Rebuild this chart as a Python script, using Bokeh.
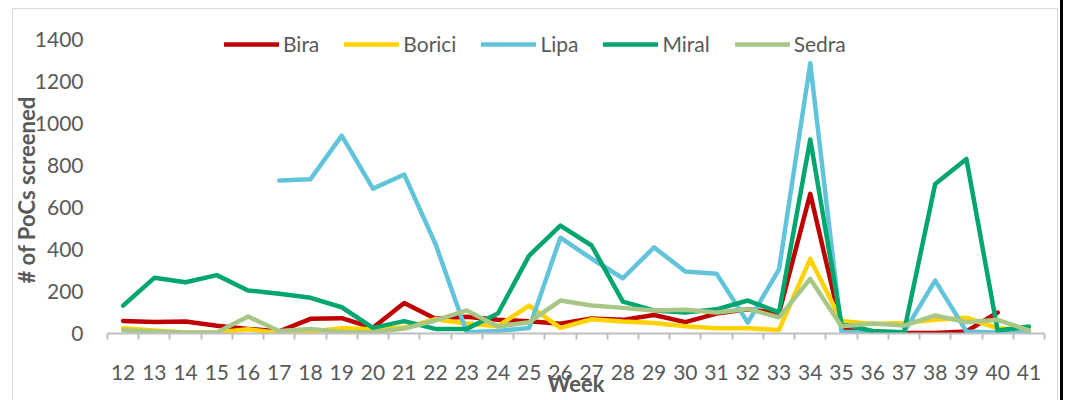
import numpy as np
from bokeh.plotting import figure
from bokeh.models import FixedTicker, Legend, LegendItem, ColumnDataSource, InlineStyleSheet, Title
from bokeh.embed import file_html
from bokeh.resources import INLINE

nan = float("nan")

weeks = list(range(12, 42))
series_names = ["Bira", "Borici", "Lipa", "Miral", "Sedra"]
series_colors = ["#C00000", "#FFD200", "#62C4DB", "#00A66E", "#A8C686"]

bira = [60, 55, 57, 37, 22, 10, 70, 73, 27, 145, 70, 80, 65, 58, 46, 72, 65, 88, 54, 95,
        115, 97, 665, 30, 5, 2, 2, 10, 100, nan]
borici = [25, 14, 5, 5, 20, 3, 10, 25, 20, 28, 68, 48, 35, 133, 27, 68, 57, 50, 35, 25,
          25, 17, 355, 60, 45, 50, 65, 75, 25, 15]
lipa = [nan, nan, nan, nan, nan, 728, 735, 942, 690, 757, 427, 6, 12, 26, 456, 356, 263,
        410, 295, 285, 52, 305, 1287, 8, 5, 5, 252, 10, 5, 5]
miral = [133, 265, 244, 278, 205, 189, 170, 125, 27, 59, 22, 22, 95, 371, 514, 419, 152,
         110, 100, 115, 157, 101, 924, 45, 12, 6, 712, 831, 14, 33]
sedra = [15, 9, 5, 5, 81, 12, 22, 7, 6, 24, 62, 110, 33, 54, 157, 133, 122, 110, 113, 100,
         117, 77, 260, 35, 48, 38, 86, 54, 65, 15]

y_ticks = [0, 200, 400, 600, 800, 1000, 1200, 1400]

src = ColumnDataSource(data=dict(
    week=np.array(weeks, dtype=float),
    Bira=np.array(bira, dtype=float),
    Borici=np.array(borici, dtype=float),
    Lipa=np.array(lipa, dtype=float),
    Miral=np.array(miral, dtype=float),
    Sedra=np.array(sedra, dtype=float),
))

FONT = "Lato"
TXT = "#595959"

p = figure(width=1065, height=400, x_range=(11.5, 41.5), y_range=(0, 1490.5),
           output_backend="svg", toolbar_location=None,
           min_border_left=107, min_border_right=21, min_border_top=20, min_border_bottom=67)
p.outline_line_color = None
p.xgrid.visible = False
p.ygrid.visible = False
p.background_fill_color = "white"
p.border_fill_color = "white"

# x axis
xa = p.xaxis[0]
xa.ticker = FixedTicker(ticks=weeks, minor_ticks=[w - 0.5 for w in weeks] + [weeks[-1] + 0.5])
xa.major_tick_out = 0
xa.major_tick_in = 0
xa.minor_tick_out = 6
xa.minor_tick_in = 0
xa.minor_tick_line_color = "#BFBFBF"
xa.minor_tick_line_width = 2
xa.axis_line_color = "#BFBFBF"
xa.axis_line_width = 2
xa.major_label_text_font = FONT
xa.major_label_text_font_size = "21px"
xa.major_label_text_color = TXT
xa.major_label_standoff = 25
xa.axis_label = "Week"
xa.axis_label_text_font = FONT
xa.axis_label_text_font_style = "bold"
xa.axis_label_text_font_size = "22px"
xa.axis_label_text_color = TXT
xa.axis_label_standoff = -13

# y axis
ya = p.yaxis[0]
ya.ticker = FixedTicker(ticks=y_ticks)
ya.axis_line_color = None
ya.major_tick_line_color = None
ya.minor_tick_line_color = None
ya.major_label_text_font = FONT
ya.major_label_text_font_size = "21px"
ya.major_label_text_color = TXT
ya.major_label_standoff = 18

ytitle = Title(text="# of PoCs screened", align="left", offset=50, standoff=-17,
               text_font=FONT, text_font_size="22px", text_font_style="bold",
               text_color=TXT)
p.add_layout(ytitle, "left")

items = []
for name, color in zip(series_names, series_colors):
    r = p.line(x="week", y=name, source=src, line_color=color, line_width=4.5,
               line_join="round", line_cap="round")
    items.append(LegendItem(label=name, renderers=[r]))

legend = Legend(items=items, orientation="horizontal", location=(117, 277),
                spacing=25, label_standoff=4, glyph_width=55, glyph_height=20,
                padding=0, margin=0, border_line_color=None, background_fill_alpha=0,
                label_text_font=FONT, label_text_font_size="21px", label_text_color=TXT)
p.add_layout(legend)

# chart-area border and the dark edge at the right, as in the reference image
p.stylesheets = [InlineStyleSheet(css="""
:host::after {
  content: ""; position: absolute; left: 12px; top: 8px; width: 1046px; height: 392px;
  border: 1px solid #D9D9D9; border-bottom: none; box-sizing: border-box;
  pointer-events: none; z-index: 10;
}
:host::before {
  content: ""; position: absolute; left: 1060px; top: 0px; width: 3px; height: 400px;
  background: #000000; pointer-events: none; z-index: 10;
}
""")]

open("out.html", "w").write(file_html(p, INLINE))
